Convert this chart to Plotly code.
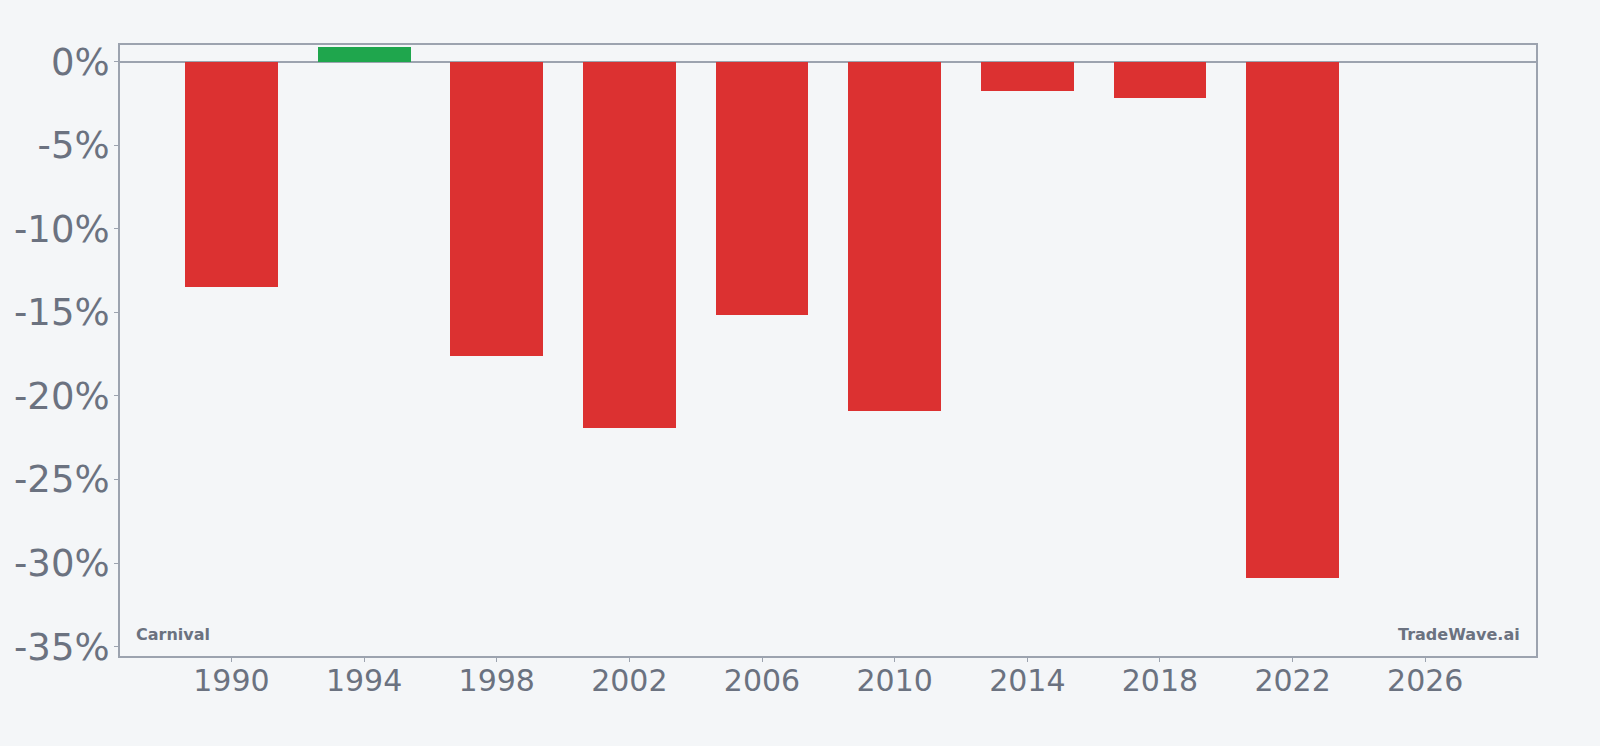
import plotly.graph_objects as go

years = [1990, 1994, 1998, 2002, 2006, 2010, 2014, 2018, 2022]
returns = [-13.5, 0.86, -17.6, -21.9, -15.15, -20.9, -1.75, -2.2, -30.9]
x_ticks = [1990, 1994, 1998, 2002, 2006, 2010, 2014, 2018, 2022, 2026]
y_ticks = [0, -5, -10, -15, -20, -25, -30, -35]
y_tick_labels = [f"{v}%" for v in y_ticks]

RED = "#dc3131"
GREEN = "#1fa64d"
BG = "#f4f6f8"
AXIS = "#9ca3af"
TEXT = "#6b7280"

colors = [GREEN if v >= 0 else RED for v in returns]

fig = go.Figure(go.Bar(x=years, y=returns, width=2.8, marker=dict(color=colors, line=dict(width=0)),
                       hoverinfo="x+y"))

fig.update_layout(
    width=1600, height=746,
    paper_bgcolor=BG, plot_bgcolor=BG,
    margin=dict(l=120, r=64, t=45, b=90),
    font=dict(family="DejaVu Sans", color=TEXT),
    showlegend=False,
    bargap=0,
)
fig.update_xaxes(range=[1986.64, 2029.34], tickvals=x_ticks, ticktext=[str(t) for t in x_ticks],
                 showgrid=False, zeroline=False, showline=True, linecolor=AXIS, linewidth=2, mirror=True,
                 ticks="outside", ticklen=4, tickcolor=AXIS, tickwidth=1, ticklabelstandoff=-7,
                 tickfont=dict(size=30, color=TEXT))
fig.update_yaxes(range=[-35.56, 1.0], tickvals=y_ticks, ticktext=y_tick_labels,
                 showgrid=False, zeroline=True, zerolinecolor=AXIS, zerolinewidth=2,
                 showline=True, linecolor=AXIS, linewidth=2, mirror=True,
                 ticks="outside", ticklen=4, tickcolor=AXIS, tickwidth=1, ticklabelstandoff=-3,
                 tickfont=dict(size=37, color=TEXT))

fig.add_annotation(text="<b>Carnival</b>", xref="paper", yref="paper", x=0.01, y=0.036,
                   xanchor="left", yanchor="middle", showarrow=False, font=dict(size=16, color=TEXT))
fig.add_annotation(text="<b>TradeWave.ai</b>", xref="paper", yref="paper", x=0.99, y=0.036,
                   xanchor="right", yanchor="middle", showarrow=False, font=dict(size=16, color=TEXT))

fig.write_html("out.html")
